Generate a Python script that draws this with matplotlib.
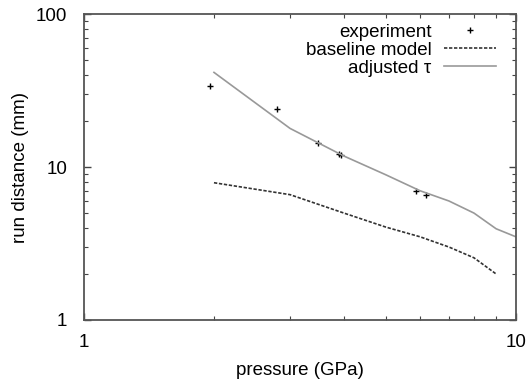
import matplotlib
matplotlib.use("Agg")
import matplotlib.pyplot as plt
from matplotlib.ticker import LogLocator, NullFormatter, FixedLocator, FixedFormatter

plt.rcParams['font.family'] = ['Liberation Sans', 'DejaVu Sans']

# experiment points
exp_p = [1.96, 2.80, 3.49, 3.90, 3.93, 5.88, 6.18]
exp_d = [33.8, 23.9, 14.4, 12.2, 12.0, 7.0, 6.55]

# baseline model
base_p = [2, 3, 4, 5, 6, 7, 8, 9]
base_d = [7.9, 6.6, 5.0, 4.05, 3.5, 3.0, 2.55, 2.0]

# adjusted tau
adj_p = [2, 3, 4, 5, 6, 7, 8, 9, 10]
adj_d = [41.6, 17.9, 11.8, 8.9, 7.0, 6.0, 5.0, 3.95, 3.5]

fig = plt.figure(figsize=(5.28, 3.79), dpi=100)
ax = fig.add_axes([0.159, 0.1557, 0.818, 0.807])

ax.plot(exp_p, exp_d, linestyle='none', marker='+', color='black',
        markersize=4.5, markeredgewidth=1.0, label='experiment')
ax.plot(base_p, base_d, linestyle=(0, (2, 1)), color='#333333',
        linewidth=1.2, label='baseline model')
ax.plot(adj_p, adj_d, linestyle='-', color='#999999',
        linewidth=1.2, label='adjusted τ')

ax.set_xscale('log')
ax.set_yscale('log')
ax.set_xlim(1, 10)
ax.set_ylim(1, 100)

ax.xaxis.set_major_locator(FixedLocator([1, 10]))
ax.xaxis.set_major_formatter(FixedFormatter(['1', '10']))
ax.yaxis.set_major_locator(FixedLocator([1, 10, 100]))
ax.yaxis.set_major_formatter(FixedFormatter(['1', '10', '100']))
ax.xaxis.set_minor_locator(LogLocator(base=10, subs=range(2, 10)))
ax.yaxis.set_minor_locator(LogLocator(base=10, subs=range(2, 10)))
ax.xaxis.set_minor_formatter(NullFormatter())
ax.yaxis.set_minor_formatter(NullFormatter())

ax.tick_params(which='both', direction='in', top=True, right=True,
               color='#444444', labelsize=13.5, labelcolor='black')
ax.tick_params(axis='x', which='major', length=5, width=1, pad=10)
ax.tick_params(axis='y', which='major', length=5, width=1, pad=12)
ax.tick_params(which='minor', length=3, width=0.8)
for s in ax.spines.values():
    s.set_color('#555555')
    s.set_linewidth(1.3)

ax.set_xlabel('pressure (GPa)', fontsize=13.5, labelpad=8)
ax.set_ylabel('run distance (mm)', fontsize=13.5, labelpad=5)

leg = ax.legend(loc='upper right', frameon=False, markerfirst=False,
                fontsize=13.5, handlelength=2.8, handletextpad=0.65,
                labelspacing=0.05, borderaxespad=0.0,
                bbox_to_anchor=(0.972, 0.993))

fig.savefig('out.png', dpi=100)
